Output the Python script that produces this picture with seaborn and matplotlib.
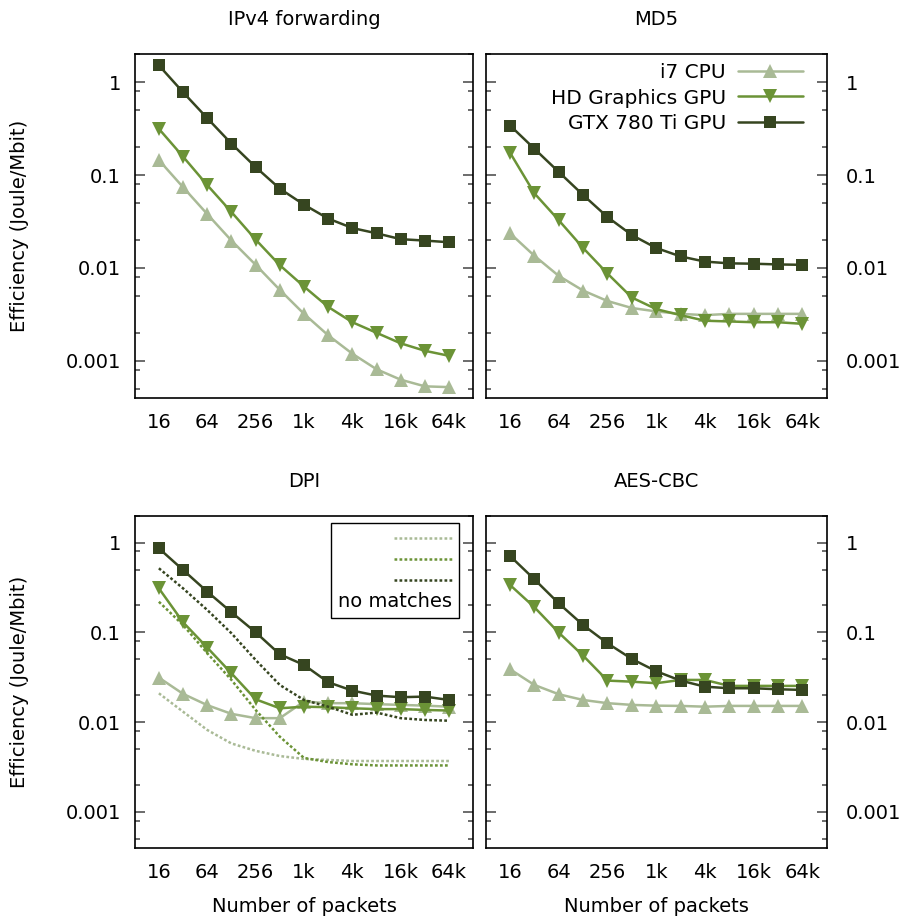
import matplotlib
matplotlib.use("Agg")
import matplotlib.pyplot as plt
import seaborn as sns
from matplotlib.ticker import LogLocator, NullLocator, NullFormatter

# packet batch sizes (x axis)
packets = [16, 32, 64, 128, 256, 512, 1024, 2048, 4096, 8192, 16384, 32768, 65536]
x_ticks = [16, 64, 256, 1024, 4096, 16384, 65536]
x_tick_labels = ["16", "64", "256", "1k", "4k", "16k", "64k"]
y_ticks = [1, 0.1, 0.01, 0.001]
y_tick_labels = ["1", "0.1", "0.01", "0.001"]

series_names = ["i7 CPU", "HD Graphics GPU", "GTX 780 Ti GPU"]

# energy efficiency, Joule/Mbit
ipv4_i7 = [0.145, 0.074, 0.038, 0.0197, 0.0108, 0.0058, 0.0032, 0.00188, 0.00119, 0.00081, 0.000625, 0.00053, 0.00052]
ipv4_hd = [0.315, 0.158, 0.078, 0.040, 0.0202, 0.0107, 0.0063, 0.0038, 0.0026, 0.0020, 0.00154, 0.00128, 0.00113]
ipv4_gtx = [1.52, 0.78, 0.41, 0.218, 0.122, 0.0714, 0.048, 0.034, 0.0269, 0.0236, 0.0204, 0.0197, 0.0189]

md5_i7 = [0.0236, 0.0135, 0.0082, 0.0057, 0.0044, 0.0037, 0.0034, 0.0032, 0.0031, 0.0032, 0.0032, 0.0032, 0.0032]
md5_hd = [0.174, 0.0636, 0.0326, 0.0164, 0.0087, 0.0048, 0.0036, 0.0031, 0.0027, 0.00265, 0.0026, 0.0026, 0.0025]
md5_gtx = [0.342, 0.192, 0.108, 0.061, 0.0353, 0.0226, 0.0164, 0.0133, 0.0117, 0.0112, 0.0111, 0.0109, 0.0108]

dpi_i7 = [0.0314, 0.0207, 0.0155, 0.0124, 0.0111, 0.0111, 0.0170, 0.0163, 0.0163, 0.0159, 0.0156, 0.0153, 0.0149]
dpi_hd = [0.31, 0.130, 0.0678, 0.0351, 0.0180, 0.0143, 0.0149, 0.0147, 0.0143, 0.0140, 0.0140, 0.0137, 0.0135]
dpi_gtx = [0.866, 0.497, 0.285, 0.168, 0.1005, 0.0571, 0.0435, 0.0279, 0.0225, 0.0198, 0.0190, 0.0193, 0.0177]
# DPI without pattern matches (dotted)
dpi_i7_nm = [0.0210, 0.0131, 0.0082, 0.0058, 0.0048, 0.0042, 0.0039, 0.0038, 0.0037, 0.0037, 0.0037, 0.0037, 0.0037]
dpi_hd_nm = [0.220, 0.121, 0.0587, 0.0296, 0.0137, 0.0069, 0.0040, 0.0036, 0.0034, 0.0033, 0.0033, 0.0033, 0.0033]
dpi_gtx_nm = [0.519, 0.31, 0.178, 0.098, 0.0494, 0.026, 0.0177, 0.0149, 0.0121, 0.0128, 0.0111, 0.0106, 0.0104]

aes_i7 = [0.0389, 0.0260, 0.0205, 0.0177, 0.0163, 0.0156, 0.0153, 0.0152, 0.0149, 0.0152, 0.0152, 0.0152, 0.0152]
aes_hd = [0.338, 0.191, 0.0995, 0.0552, 0.0291, 0.0283, 0.0272, 0.0296, 0.0296, 0.0254, 0.0254, 0.0254, 0.0254]
aes_gtx = [0.711, 0.391, 0.211, 0.121, 0.0758, 0.0507, 0.0370, 0.0291, 0.0249, 0.0239, 0.0239, 0.0233, 0.0229]

COLORS = ["#a9ba96", "#6b9336", "#364520"]
MARKERS = ["^", "v", "s"]
MSIZES = [10, 10, 8.5]
FS = 14

sns.set_theme(style="white")
plt.rcParams["font.family"] = ["DejaVu Sans"]
plt.rcParams["axes.edgecolor"] = "black"
plt.rcParams["axes.linewidth"] = 1.2
plt.rcParams["text.color"] = "black"
plt.rcParams["axes.labelcolor"] = "black"
plt.rcParams["axes.titlecolor"] = "black"

W, H = 905, 922
fig = plt.figure(figsize=(W / 100, H / 100), dpi=100)


def px_axes(left, right, top, bottom):
    return fig.add_axes([left / W, 1 - bottom / H, (right - left) / W, (bottom - top) / H])


ax_ipv4 = px_axes(134.7, 473.3, 54.3, 397.7)
ax_md5 = px_axes(485.7, 826.7, 54.3, 397.7)
ax_dpi = px_axes(134.7, 473.3, 515.7, 847.7)
ax_aes = px_axes(485.7, 826.7, 515.7, 847.7)

panels = [
    (ax_ipv4, "IPv4 forwarding", [ipv4_i7, ipv4_hd, ipv4_gtx], "left"),
    (ax_md5, "MD5", [md5_i7, md5_hd, md5_gtx], "right"),
    (ax_dpi, "DPI", [dpi_i7, dpi_hd, dpi_gtx], "left"),
    (ax_aes, "AES-CBC", [aes_i7, aes_hd, aes_gtx], "right"),
]

for ax, title, data, side in panels:
    for vals, name, c, m, ms in zip(data, series_names, COLORS, MARKERS, MSIZES):
        sns.lineplot(x=packets, y=vals, ax=ax, color=c, marker=m, markersize=ms,
                     markeredgewidth=0, linewidth=1.8, label=name, legend=False)

    ax.set_xscale("log", base=2)
    ax.set_yscale("log")
    ax.set_xlim(8, 131072)
    ax.set_ylim(0.0004, 2.0)
    ax.set_xticks(x_ticks, x_tick_labels)
    ax.xaxis.set_minor_locator(NullLocator())
    ax.set_yticks(y_ticks, y_tick_labels)
    ax.yaxis.set_minor_locator(LogLocator(base=10, subs=(2, 5, 8)))
    ax.yaxis.set_minor_formatter(NullFormatter())

    ax.tick_params(axis="x", length=0, pad=11, labelsize=FS, labelcolor="black")
    ax.tick_params(axis="y", which="major", direction="in", length=7, width=1.1,
                   left=True, right=True, color="#444444", labelsize=FS, labelcolor="black")
    ax.tick_params(axis="y", which="minor", direction="in", length=3.6, width=1.1,
                   left=True, right=True, color="#444444")
    if side == "left":
        ax.tick_params(axis="y", labelleft=True, labelright=False, pad=10)
        ax.set_ylabel("Efficiency (Joule/Mbit)", fontsize=FS, labelpad=26)
    else:
        ax.tick_params(axis="y", labelleft=False, labelright=True, pad=14)
        ax.set_ylabel("")
    ax.set_xlabel("")
    ax.set_title(title, fontsize=FS, pad=21)
    for sp in ax.spines.values():
        sp.set_visible(True)
        sp.set_color("black")

# dotted "no matches" series for DPI
dotted = []
for vals, c in zip([dpi_i7_nm, dpi_hd_nm, dpi_gtx_nm], COLORS):
    sns.lineplot(x=packets, y=vals, ax=ax_dpi, color=c, linewidth=1.8,
                 linestyle=(0, (1.1, 0.9)), legend=False)
    dotted.append(ax_dpi.get_lines()[-1])

for ax in (ax_dpi, ax_aes):
    ax.set_xlabel("Number of packets", fontsize=FS, labelpad=11)

# legends
h = ax_md5.get_lines()[:3]
ax_md5.legend(h, series_names, loc="upper right", bbox_to_anchor=(0.941, 0.985),
              frameon=False, markerfirst=False,
              fontsize=14.5, handlelength=3.2, handletextpad=0.6, labelspacing=0.3,
              borderaxespad=0, borderpad=0.2)

leg = ax_dpi.legend(dotted, ["", "", ""], title="no matches", title_fontsize=FS,
                    loc="upper right", bbox_to_anchor=(1 - 14 / 338.6, 1 - 7.6 / 332),
                    frameon=True, fancybox=False, framealpha=1,
                    edgecolor="black", markerfirst=False, alignment="right",
                    fontsize=FS, handlelength=3.0, handletextpad=0.3, labelspacing=0.08,
                    borderaxespad=0, borderpad=0.36)
leg.get_frame().set_linewidth(1.0)
leg._legend_box._children.reverse()

fig.savefig("out.png", dpi=100)
